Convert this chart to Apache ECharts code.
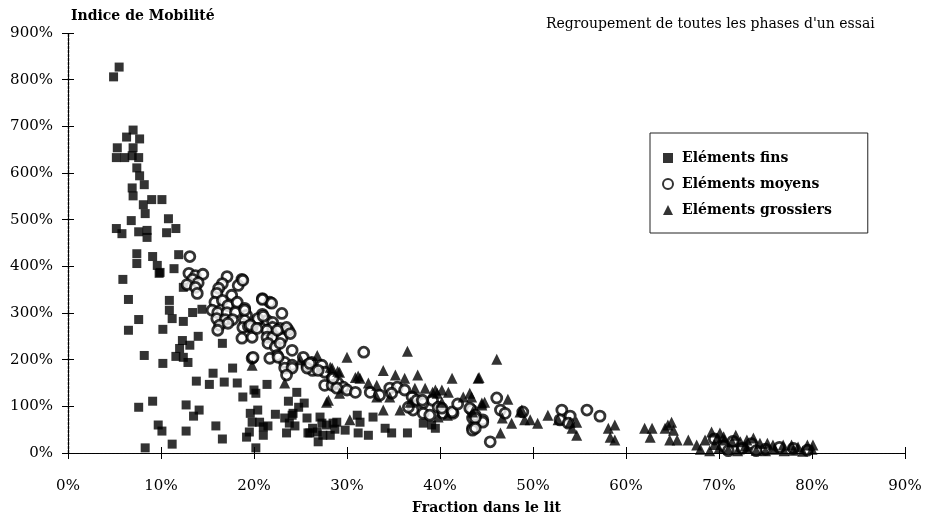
<!DOCTYPE html>
<html>
<head>
<meta charset="utf-8">
<script src="https://cdn.jsdelivr.net/npm/echarts@6/dist/echarts.min.js"></script>
<style>html,body{margin:0;padding:0;background:#fff;}#c{width:927px;height:527px;}</style>
</head>
<body>
<div id="c"></div>
<script>
// Tick labels
const xTicks = [0,10,20,30,40,50,60,70,80,90];
const yTicks = [0,100,200,300,400,500,600,700,800,900];
const seriesNames = ['Eléments fins','Eléments moyens','Eléments grossiers'];

// [fraction dans le lit (%), indice de mobilité (%)]
const fins = [
[5.5,827],[4.9,806],[7.0,692],[6.3,677],[7.7,673],[5.3,654],[7.0,654],[5.2,633],[6.1,633],[6.9,637],
[7.6,633],[7.4,611],[7.7,594],[8.2,575],[6.9,568],[7.0,551],[8.1,532],[9.0,543],[10.1,543],[8.3,513],
[6.8,498],[10.8,502],[5.2,481],[5.8,470],[7.6,474],[8.5,477],[8.5,462],[10.6,472],[11.6,481],[7.4,427],
[9.1,421],[11.9,425],[7.4,406],[9.6,402],[9.8,385],[11.4,395],[9.9,387],[5.9,372],[12.4,355],[6.5,329],
[10.9,327],[10.9,306],[7.6,286],[11.2,288],[12.4,282],[13.4,301],[14.4,308],[6.5,263],[10.2,265],[12.3,241],
[13.1,231],[14.0,250],[12.0,224],[11.6,207],[12.4,205],[12.9,194],[8.2,209],[10.2,192],[15.6,171],[13.8,154],
[15.2,147],[16.6,235],[17.7,182],[16.8,152],[18.2,150],[21.4,147],[20.0,135],[20.2,128],[18.8,120],[24.6,130],
[23.7,111],[25.4,107],[24.8,98],[7.6,98],[9.1,111],[12.7,103],[14.1,92],[13.5,79],[9.7,60],[10.1,47],
[12.7,47],[15.9,58],[8.3,11],[11.2,19],[19.6,85],[20.4,92],[22.3,83],[23.3,75],[24.2,85],[19.8,66],
[20.6,66],[21.0,56],[21.5,58],[23.8,64],[24.4,58],[25.7,75],[27.1,77],[27.3,64],[26.3,53],[27.8,60],
[28.9,66],[28.7,51],[16.6,30],[19.5,45],[19.2,34],[21.0,38],[23.5,43],[25.8,43],[26.8,45],[27.4,38],
[28.2,38],[26.9,24],[20.2,11],[29.8,49],[24.1,81],[28.5,64],[26.0,43],[31.1,81],[31.4,66],[31.2,43],
[32.3,38],[32.8,77],[34.1,53],[34.8,43],[36.5,43],[38.2,64],[39.1,60],[39.5,53]
];

const moyens = [
[13.1,421],[13.0,385],[13.7,380],[14.5,383],[13.4,372],[14.0,365],[12.8,361],[13.7,355],[13.9,342],[17.1,378],
[16.6,363],[16.2,353],[16.0,342],[18.7,372],[18.3,359],[17.6,338],[15.8,323],[16.6,327],[17.2,316],[18.2,323],
[19.0,310],[15.5,306],[16.1,301],[17.1,301],[18.0,301],[19.2,295],[16.0,288],[16.9,286],[17.7,286],[16.3,274],
[17.2,278],[19.0,284],[16.1,263],[18.8,269],[19.4,271],[20.9,331],[21.7,323],[20.9,297],[20.4,284],[21.4,284],
[22.0,280],[23.0,299],[22.0,269],[22.8,267],[23.7,263],[19.8,269],[18.7,246],[19.8,248],[21.4,263],[21.4,248],
[22.0,248],[23.0,246],[21.5,235],[22.3,227],[22.8,235],[24.1,220],[22.5,209],[21.7,203],[25.3,205],[19.8,203],
[23.3,194],[24.1,188],[23.3,182],[24.1,182],[23.5,167],[25.7,188],[26.2,194],[27.3,188],[27.6,173],[26.3,177],
[28.4,160],[27.6,145],[28.4,145],[29.0,150],[29.6,141],[18.8,370],[20.9,329],[21.9,321],[19.0,306],[20.4,288],
[21.0,293],[19.6,274],[20.3,267],[23.5,269],[23.9,256],[22.5,263],[19.9,205],[22.6,205],[25.7,182],[31.8,216],
[26.0,192],[26.9,177],[28.9,139],[30.0,135],[30.9,130],[28.5,160],[32.5,130],[33.5,124],[34.6,139],[35.4,141],
[36.2,135],[37.0,120],[37.5,113],[38.2,107],[39.2,113],[39.8,98],[40.3,85],[41.4,85],[43.4,92],[43.5,75],
[44.6,71],[43.5,53],[45.4,24],[37.1,92],[38.2,85],[34.8,128],[36.6,98],[38.1,113],[40.2,96],[41.3,88],
[41.9,105],[43.2,96],[43.8,81],[44.6,66],[43.5,49],[46.1,118],[46.5,92],[47.0,85],[38.9,81],[43.8,75],
[43.8,53],[48.9,88],[53.1,92],[54.0,79],[52.9,71],[55.8,92],[57.2,79],[53.8,64],
[69.5,30],[70.5,15],[71.5,25],[72.5,10],[73.5,20],[75.0,8],[76.5,12],[78.0,10],[79.5,6],[71.0,5],[74.0,5]
];

const grossiers = [
[26.8,209],[28.2,184],[30.0,205],[27.8,109],[23.3,150],[19.8,188],[29.0,175],[31.2,165],[33.9,177],[36.5,218],
[25.0,200],[28.4,182],[29.2,173],[30.9,162],[31.4,160],[32.3,150],[33.2,145],[35.2,167],[36.2,160],[37.6,167],
[37.3,139],[38.4,139],[39.5,135],[40.2,135],[41.3,160],[44.1,160],[42.5,120],[43.4,120],[44.5,107],[28.0,113],
[33.9,92],[35.7,92],[30.3,71],[29.2,128],[33.2,120],[34.6,120],[36.8,109],[39.7,128],[40.2,109],[46.1,201],
[39.2,130],[40.9,130],[43.2,128],[44.8,109],[47.3,115],[46.7,75],[47.7,64],[46.5,43],[39.8,77],[40.8,81],
[48.6,88],[44.2,162],[43.5,88],[44.5,103],[48.8,92],[49.1,71],[49.7,71],[50.5,64],[51.6,81],[52.7,71],
[54.0,66],[54.7,66],[54.2,53],[54.7,38],[58.1,53],[58.8,60],[58.3,34],[58.8,28],[62.0,53],[62.8,53],
[62.6,34],[64.2,53],[64.5,60],[64.9,66],[65.1,49],[64.7,28],[65.5,28],[66.7,28],[67.6,17],[69.2,45],
[70.1,43],[69.8,32],[68.5,28],[70.6,28],[71.4,24],[72.3,24],[73.0,28],[73.7,32],[74.4,21],[75.2,21],
[75.8,17],[76.9,17],[77.8,17],[78.5,13],[79.5,17],[80.1,17],
[68.0,8],[69.0,5],[70.0,10],[71.0,8],[72.0,5],[73.0,10],[74.0,6],[75.0,5],[76.0,8],[77.0,5],
[78.0,6],[79.0,4],[80.0,8],[70.5,35],[71.8,38],[72.8,15],[69.5,18]
];

const FONT = 'DejaVu Serif';
const chart = echarts.init(document.getElementById('c'), null, {renderer:'canvas'});

const axisLineStyle = {color:'#000', width:1.2, type:[3,1]};
const xMin = xTicks[0], xMax = xTicks[xTicks.length-1], xInt = xTicks[1]-xTicks[0];
const yMin = yTicks[0], yMax = yTicks[yTicks.length-1], yInt = yTicks[1]-yTicks[0];

function baseX(inside, labels){
  return {
    type:'value', min:xMin, max:xMax, interval:xInt, position:'bottom',
    axisLine:{show:true, onZero:false, lineStyle:axisLineStyle},
    axisTick:{show:true, inside:inside, length:6, lineStyle:{color:'#000', width:1}},
    axisLabel:{show:labels, formatter:'{value}%', color:'#000', fontFamily:FONT, fontSize:15, margin:26},
    splitLine:{show:false}
  };
}
function baseY(inside, labels){
  return {
    type:'value', min:yMin, max:yMax, interval:yInt, position:'left',
    axisLine:{show:true, onZero:false, lineStyle:axisLineStyle},
    axisTick:{show:true, inside:inside, length:6, lineStyle:{color:'#000', width:1}},
    axisLabel:{show:labels, formatter:'{value}%', color:'#000', fontFamily:FONT, fontSize:15, margin:15},
    splitLine:{show:false}
  };
}

const xa0 = baseX(false, true);
xa0.name = 'Fraction dans le lit';
xa0.nameLocation = 'middle';
xa0.nameGap = 48;
xa0.nameTextStyle = {color:'#000', fontFamily:FONT, fontSize:14, fontWeight:'bold'};

chart.setOption({
  animation:false,
  backgroundColor:'#fff',
  title:[
    {text:'Indice de Mobilité', left:66, top:4, textStyle:{color:'#000', fontFamily:FONT, fontSize:14, fontWeight:'bold'}},
    {text:"Regroupement de toutes les phases d'un essai", left:541, top:12, textStyle:{color:'#000', fontFamily:FONT, fontSize:14, fontWeight:'normal'}}
  ],
  grid:{left:68, right:22, top:33, bottom:74, containLabel:false},
  legend:{
    orient:'vertical', left:650, top:133,
    data:seriesNames,
    backgroundColor:'#fff',
    borderColor:'#222', borderWidth:1,
    padding:[18, 36, 16, 12],
    itemGap:12, itemWidth:10, itemHeight:10,
    textStyle:{color:'#000', fontFamily:FONT, fontSize:14, fontWeight:'bold', padding:[0,0,0,4]}
  },
  xAxis:[xa0, baseX(true, false)],
  yAxis:[baseY(false, true), baseY(true, false)],
  series:[
    {name:seriesNames[0], type:'scatter', data:fins, symbol:'rect', symbolSize:9,
     itemStyle:{color:'#000'}, z:3},
    {name:seriesNames[1], type:'scatter', data:moyens, symbol:'circle', symbolSize:10,
     itemStyle:{color:'#fff', borderColor:'#000', borderWidth:2.8}, z:4},
    {name:seriesNames[2], type:'scatter', data:grossiers, symbol:'triangle', symbolSize:11,
     itemStyle:{color:'#000'}, z:5}
  ]
});
</script>
</body>
</html>
